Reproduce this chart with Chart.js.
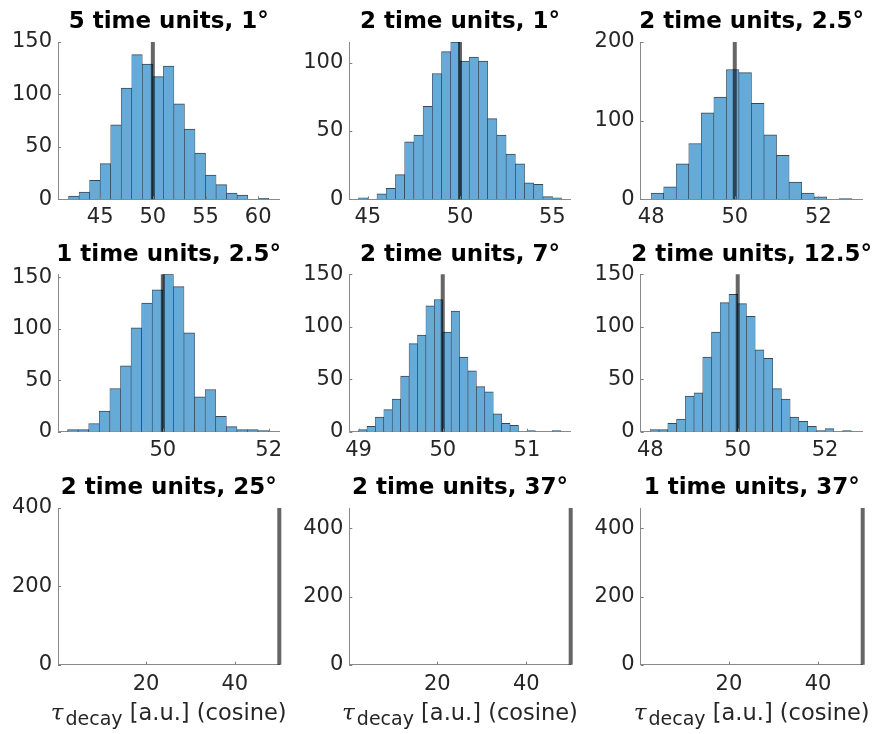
<!DOCTYPE html>
<html>
<head>
<meta charset="utf-8">
<script src="https://cdn.jsdelivr.net/npm/chart.js@4.4.0/dist/chart.umd.min.js"></script>
<style>
  html, body { margin: 0; padding: 0; background: #fff; width: 873px; height: 734px; overflow: hidden; }
  canvas { position: absolute; }
</style>
</head>
<body>
<script>
// panel titles, row by row
const titles = [
  '5 time units, 1°', '2 time units, 1°', '2 time units, 2.5°',
  '1 time units, 2.5°', '2 time units, 7°', '2 time units, 12.5°',
  '2 time units, 25°', '2 time units, 37°', '1 time units, 37°'
];

// histogram bins: first edge, bin width, counts
const binStart = [42, 44.5, 48.0, 48.2, 49.0, 48.0];
const binWidth = [1, 0.5, 0.3, 0.2, 0.1, 0.2];
const counts1 = [3, 7, 18, 34, 71, 106, 138, 129, 117, 127, 91, 67, 44, 23, 14, 6, 4, 0, 1];
const counts2 = [1, 0, 4, 8, 18, 42, 47, 68, 92, 108, 115, 101, 104, 101, 59, 47, 33, 26, 12, 11, 2, 1];
const counts3 = [8, 16, 45, 71, 110, 130, 165, 161, 122, 82, 56, 22, 8, 3, 0, 1];
const counts4 = [2, 2, 8, 20, 42, 64, 101, 125, 138, 153, 141, 96, 34, 41, 15, 5, 2, 2, 1];
const counts5 = [2, 5, 14, 21, 31, 53, 84, 92, 120, 126, 95, 115, 71, 58, 43, 38, 17, 8, 6, 0, 1, 0, 0, 1];
const counts6 = [2, 2, 8, 12, 34, 37, 71, 95, 123, 131, 122, 110, 78, 70, 41, 31, 14, 10, 5, 1, 3, 0, 1];
const allCounts = [counts1, counts2, counts3, counts4, counts5, counts6, [], [], []];

// true value marker
const trueValue = 50;

// axis ranges and tick labels
const xRange = [[41, 62], [44, 56], [47.75, 53.06], [48.02, 52.2], [48.89, 51.52], [47.78, 52.86], [0.2, 50], [0.2, 50], [0.2, 50]];
const yMax = [150, 115, 200, 153, 150, 150, 400, 460, 460];
const xTicks = [[45, 50, 55, 60], [45, 50, 55], [48, 50, 52], [50, 52], [49, 50, 51], [48, 50, 52], [20, 40], [20, 40], [20, 40]];
const yTicks = [[0, 50, 100, 150], [0, 50, 100], [0, 100, 200], [0, 50, 100, 150], [0, 50, 100, 150], [0, 50, 100, 150], [0, 200, 400], [0, 200, 400], [0, 200, 400]];

// plot-area layout (pixels)
const colLeft = [58, 349.3, 640.7];
const colRight = [279.3, 570.7, 862.7];
const rowTop = [42, 274.3, 508];
const rowBottom = [199.3, 431.7, 664.7];

const FONT = "'DejaVu Sans', 'Noto Sans', sans-serif";

// MATLAB-style ticks pointing into the plot
const inwardTicks = {
  id: 'inwardTicks',
  afterDatasetsDraw(chart) {
    const {ctx, chartArea: a, scales: {x, y}} = chart;
    ctx.save();
    ctx.strokeStyle = '#808080';
    ctx.lineWidth = 1;
    ctx.beginPath();
    x.ticks.forEach(t => {
      const px = Math.round(x.getPixelForValue(t.value)) + 0.5;
      ctx.moveTo(px, a.bottom);
      ctx.lineTo(px, a.bottom - 3);
    });
    y.ticks.forEach(t => {
      const py = Math.round(y.getPixelForValue(t.value)) + 0.5;
      ctx.moveTo(a.left, py);
      ctx.lineTo(a.left + 3, py);
    });
    ctx.stroke();
    ctx.restore();
  }
};

// title centred over the plot area
const panelTitle = {
  id: 'panelTitle',
  afterDraw(chart, args, opts) {
    const {ctx, chartArea: a} = chart;
    ctx.save();
    ctx.font = 'bold 23px ' + FONT;
    ctx.fillStyle = '#000';
    ctx.textAlign = 'center';
    ctx.textBaseline = 'middle';
    ctx.fillText(opts.text, (a.left + a.right) / 2, a.top - 19.5);
    ctx.restore();
  }
};

// x label with subscript: tau_decay [a.u.] (cosine)
const xLabel = {
  id: 'xLabel',
  afterDraw(chart, args, opts) {
    if (!opts.show) return;
    const {ctx, chartArea: a} = chart;
    const parts = [
      {t: 'τ', f: "italic 23px 'DejaVu Serif', serif", dy: 0, gap: 2},
      {t: 'decay', f: '19px ' + FONT, dy: 5, gap: 0},
      {t: ' [a.u.] (cosine)', f: '22.5px ' + FONT, dy: 0, gap: 0}
    ];
    ctx.save();
    let total = 0;
    parts.forEach(p => { ctx.font = p.f; p.w = ctx.measureText(p.t).width; total += p.w + p.gap; });
    let x = (a.left + a.right) / 2 - total / 2;
    const base = a.bottom + 55;
    ctx.fillStyle = '#262626';
    ctx.textBaseline = 'alphabetic';
    ctx.textAlign = 'left';
    parts.forEach(p => {
      ctx.font = p.f;
      ctx.fillText(p.t, x, base + p.dy);
      x += p.w + p.gap;
    });
    ctx.restore();
  }
};

for (let i = 0; i < 9; i++) {
  const r = Math.floor(i / 3), c = i % 3;
  const plotL = colLeft[c], plotR = colRight[c], plotT = rowTop[r], plotB = rowBottom[r];
  const cvLeft = Math.floor(plotL - 56);
  const yAxisW = plotL - cvLeft;
  const pw = plotR - plotL;
  const cvW = Math.ceil(yAxisW + pw + 12);
  const padRight = cvW - yAxisW - pw;
  const cvTop = Math.floor(plotT - 40);
  const titleH = plotT - cvTop;
  const cvH = r === 2 ? 734 - cvTop : Math.round(plotB + 35 - cvTop);
  const xAxisH = cvTop + cvH - plotB;

  const canvas = document.createElement('canvas');
  canvas.width = cvW;
  canvas.height = cvH;
  canvas.style.left = cvLeft + 'px';
  canvas.style.top = cvTop + 'px';
  canvas.style.width = cvW + 'px';
  canvas.style.height = cvH + 'px';
  document.body.appendChild(canvas);

  const counts = allCounts[i];
  const datasets = [{
    type: 'line',
    data: [{x: trueValue, y: 0}, {x: trueValue, y: yMax[i]}],
    borderColor: 'rgba(0,0,0,0.6)',
    borderWidth: 4,
    pointRadius: 0,
    clip: false,
    order: 1
  }];
  if (counts.length) {
    datasets.push({
      type: 'bar',
      data: counts.map((v, k) => ({x: binStart[i] + binWidth[i] * (k + 0.5), y: v})),
      backgroundColor: '#66aad7',
      borderColor: 'rgba(10,25,40,0.8)',
      borderWidth: {top: 1, left: 0.6, right: 0.6, bottom: 0},
      barPercentage: 1,
      categoryPercentage: 1,
      order: 2
    });
  }

  new Chart(canvas.getContext('2d'), {
    type: 'bar',
    data: {datasets},
    plugins: [inwardTicks, panelTitle, xLabel],
    options: {
      responsive: false,
      animation: false,
      events: [],
      devicePixelRatio: 1,
      layout: {autoPadding: false, padding: {left: 0, right: padRight, top: titleH, bottom: 0}},
      plugins: {
        legend: {display: false},
        tooltip: {enabled: false},
        title: {display: false},
        panelTitle: {text: titles[i]},
        xLabel: {show: r === 2}
      },
      scales: {
        x: {
          type: 'linear',
          min: xRange[i][0],
          max: xRange[i][1],
          offset: false,
          afterBuildTicks: s => { s.ticks = xTicks[i].map(v => ({value: v})); },
          afterFit: s => { s.height = xAxisH; },
          grid: {display: false, drawTicks: false, offset: false},
          border: {display: true, color: '#8a8a8a', width: 1},
          ticks: {padding: r === 2 ? 7 : 6, color: '#262626', font: {family: FONT, size: 21}, maxRotation: 0, autoSkip: false}
        },
        y: {
          type: 'linear',
          min: 0,
          max: yMax[i],
          afterBuildTicks: s => { s.ticks = yTicks[i].map(v => ({value: v})); },
          afterFit: s => { s.width = yAxisW; },
          grid: {display: false, drawTicks: false},
          border: {display: true, color: '#8a8a8a', width: 1},
          ticks: {padding: 6, color: '#262626', font: {family: FONT, size: 21}, autoSkip: false}
        }
      }
    }
  });
}
</script>
</body>
</html>
